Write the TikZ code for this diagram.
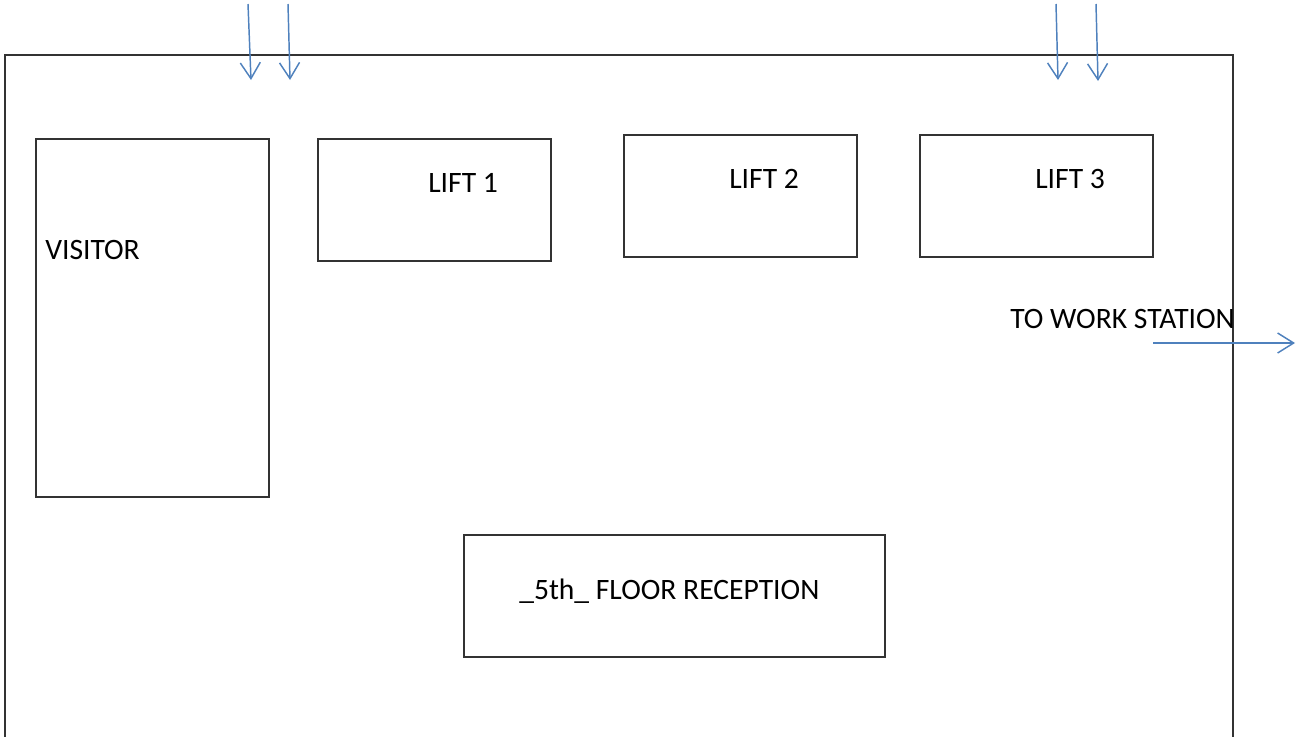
\documentclass[tikz,border=0pt]{standalone}
\usepackage{fontspec}
\setmainfont{Carlito}
\usetikzlibrary{arrows.meta}
\definecolor{flowblue}{HTML}{4F81BD}
\begin{document}
\begin{tikzpicture}[x=0.75pt,y=-0.75pt,
		wall/.style={draw=black!80,line width=0.8pt},
		flow/.style={draw=flowblue,line width=1.1pt,-{Straight Barb[length=12pt,width=15pt,line width=1.1pt]}},
		label/.style={anchor=base west,inner sep=0pt,font=\fontsize{22.2}{26}\selectfont}]
			\useasboundingbox (0,0) rectangle (1298,736);
			% floor outline, open at the bottom
			\draw[wall] (5,740)--(5,55)--(1233,55)--(1233,740);
			% rooms
			\draw[wall] (36,139) rectangle (269,497);
			\draw[wall] (318,139) rectangle (551,261);
			\draw[wall] (624,135) rectangle (857,257);
			\draw[wall] (920,135) rectangle (1153,257);
			\draw[wall] (464,535) rectangle (885,657);
			\node[label] (visitor) at (45,259) {VISITOR};
			\node[label] (lift1) at (428,192) {LIFT 1};
			\node[label] (lift2) at (729,188) {LIFT 2};
			\node[label] (lift3) at (1035,188) {LIFT 3};
			\node[label] (reception) at (519,599) {\_5th\_ FLOOR RECEPTION};
			\node[label] (work) at (1010,328) {TO WORK STATION};
			% entries and exit
			\draw[flow] (248,4)--(251,80);
			\draw[flow] (288,4)--(290,80);
			\draw[flow] (1056,4)--(1058,80);
			\draw[flow] (1096,4)--(1098,81);
			\draw[flow] (1153,343)--(1295,343);
		\end{tikzpicture}
\end{document}
